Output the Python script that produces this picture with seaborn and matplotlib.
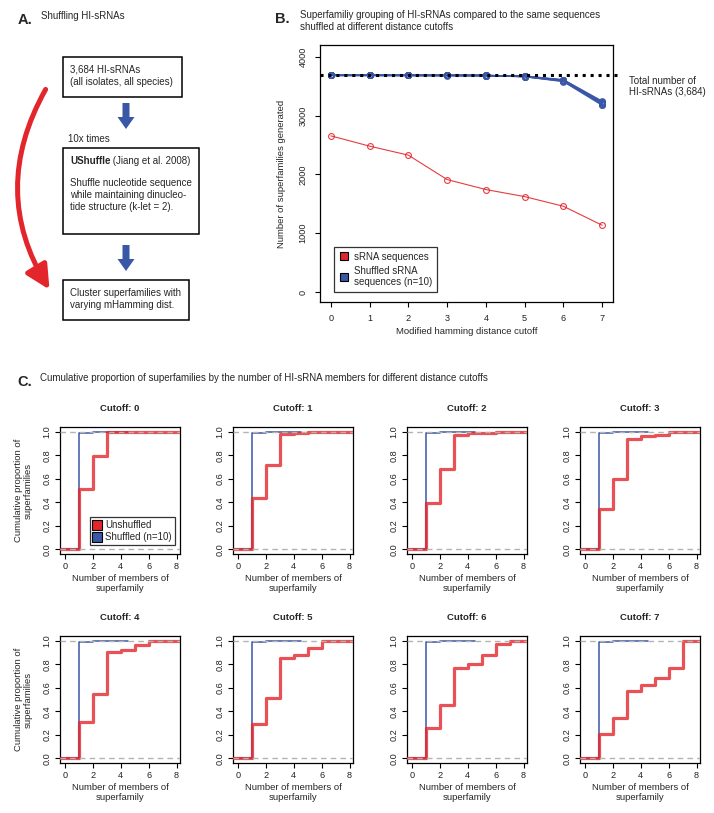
import numpy as np
import pandas as pd
import matplotlib
matplotlib.use("Agg")
import matplotlib.pyplot as plt
import seaborn as sns
from matplotlib.patches import Rectangle, FancyArrowPatch, FancyArrow
from matplotlib.lines import Line2D

sns.set_style("ticks")
plt.rcParams["font.family"] = ["Liberation Sans", "DejaVu Sans"]
plt.rcParams["axes.linewidth"] = 0.9

W, H = 714, 813
RED = "#e3262b"
BLUE = "#3a56a6"
GREY01 = "#b3b3b3"

# ---------------------------------------------------------------------
# Panel B data: superfamilies generated per modified hamming cutoff
# ---------------------------------------------------------------------
cutoffs = [0, 1, 2, 3, 4, 5, 6, 7]
srna_superfamilies = [2655, 2480, 2327, 1912, 1742, 1622, 1458, 1135]
shuffled_superfamilies = [
    [3684, 3684, 3683, 3683, 3682, 3668, 3604, 3238],
    [3684, 3683, 3683, 3682, 3682, 3665, 3598, 3225],
    [3684, 3684, 3684, 3683, 3681, 3670, 3610, 3245],
    [3683, 3684, 3683, 3682, 3681, 3662, 3590, 3210],
    [3684, 3683, 3682, 3683, 3682, 3667, 3600, 3200],
    [3684, 3684, 3683, 3683, 3680, 3664, 3585, 3190],
    [3683, 3683, 3684, 3682, 3682, 3669, 3606, 3230],
    [3684, 3684, 3683, 3681, 3681, 3660, 3578, 3175],
    [3684, 3683, 3683, 3683, 3682, 3666, 3595, 3215],
    [3684, 3684, 3682, 3682, 3680, 3663, 3588, 3185],
]
total_hi_srnas = 3684

# ---------------------------------------------------------------------
# Panel C data: ECDF of superfamily size (members = 1, 2, 3, ...)
# ---------------------------------------------------------------------
unshuffled_cdf = [
    [0.51, 0.79, 1.0],
    [0.44, 0.72, 0.98, 0.985, 1.0],
    [0.39, 0.68, 0.975, 0.985, 0.99, 1.0],
    [0.34, 0.60, 0.94, 0.96, 0.975, 1.0],
    [0.31, 0.55, 0.90, 0.92, 0.96, 1.0],
    [0.29, 0.51, 0.85, 0.88, 0.94, 1.0],
    [0.26, 0.455, 0.765, 0.80, 0.88, 0.97, 1.0],
    [0.21, 0.345, 0.575, 0.62, 0.68, 0.765, 1.0],
]
shuffled_cdf = [0.99, 0.997, 0.999, 1.0]

fig = plt.figure(figsize=(W / 100, H / 100), dpi=100)


def px_axes(left, top, width, height):
    return fig.add_axes([left / W, 1 - (top + height) / H, width / W, height / H])


def r_style(ax, fs):
    for s in ax.spines.values():
        s.set_visible(True)
        s.set_color("black")
        s.set_linewidth(0.9)
    ax.tick_params(direction="out", length=3.5, width=0.8, labelsize=fs,
                   color="black", labelcolor="#222222")


# ---------------------------------------------------------------------
# Overlay for panel A and the panel letters / headings
# ---------------------------------------------------------------------
ov = fig.add_axes([0, 0, 1, 1], zorder=5)
ov.set_xlim(0, W)
ov.set_ylim(H, 0)
ov.axis("off")
ov.patch.set_alpha(0)

ov.text(18, 20, "A.", fontsize=10.5, fontweight="bold", va="center", ha="left")
ov.text(41, 16, "Shuffling HI-sRNAs", fontsize=7, va="center", ha="left")
ov.text(275, 19, "B.", fontsize=10.5, fontweight="bold", va="center", ha="left")
ov.text(300, 21, "Superfamiliy grouping of HI-sRNAs compared to the same sequences\n"
        "shuffled at different distance cutoffs", fontsize=7, va="center", ha="left",
        linespacing=1.2)
ov.text(17, 382, "C.", fontsize=10.5, fontweight="bold", va="center", ha="left")
ov.text(40, 378, "Cumulative proportion of superfamilies by the number of HI-sRNA members "
        "for different distance cutoffs", fontsize=7, va="center", ha="left")

for (x0, y0, x1, y1) in [(63, 57, 182, 97), (63, 148, 199, 234), (63, 280, 189, 320)]:
    ov.add_patch(Rectangle((x0, y0), x1 - x0, y1 - y0, fill=False, ec="black", lw=1.1))

ov.text(70, 76, "3,684 HI-sRNAs\n(all isolates, all species)", fontsize=7,
        va="center", ha="left", linespacing=1.25)
ov.text(68, 139, "10x times", fontsize=7, va="center", ha="left")
t_bold = ov.text(70, 161, "UShuffle", fontsize=7, fontweight="bold", va="center", ha="left")
ov.annotate(" (Jiang et al. 2008)", xy=(1, 0), xycoords=t_bold, fontsize=7,
            va="bottom", ha="left")
ov.text(70, 195, "Shuffle nucleotide sequence\nwhile maintaining dinucleo-\n"
        "tide structure (k-let = 2).", fontsize=7, va="center", ha="left",
        linespacing=1.25)
ov.text(70, 299, "Cluster superfamilies with\nvarying mHamming dist.", fontsize=7,
        va="center", ha="left", linespacing=1.25)

for y_start in (103, 245):
    ov.add_patch(FancyArrow(126, y_start, 0, 26, width=7, head_width=17, head_length=12,
                            length_includes_head=True, color=BLUE, lw=0))

ov.add_patch(FancyArrowPatch((47, 87), (51, 292), connectionstyle="arc3,rad=0.3",
                             arrowstyle="-|>,head_length=0.6,head_width=0.3",
                             mutation_scale=24, lw=3.6, color=RED))

# ---------------------------------------------------------------------
# Panel B
# ---------------------------------------------------------------------
axB = px_axes(320, 45, 293, 257)
shuf_df = pd.DataFrame(
    [(rep, c, v) for rep, row in enumerate(shuffled_superfamilies)
     for c, v in zip(cutoffs, row)],
    columns=["rep", "cutoff", "n"])
srna_df = pd.DataFrame({"cutoff": cutoffs, "n": srna_superfamilies})

sns.lineplot(data=shuf_df, x="cutoff", y="n", units="rep", estimator=None, ax=axB,
             color=BLUE, lw=1.0, marker="o", markersize=4.2, markerfacecolor="none",
             markeredgecolor=BLUE, markeredgewidth=0.8, alpha=0.85)
sns.lineplot(data=srna_df, x="cutoff", y="n", ax=axB, color=RED, lw=0.8, marker="o",
             markersize=4.2, markerfacecolor="none", markeredgecolor=RED,
             markeredgewidth=0.8, alpha=0.9)
axB.axhline(total_hi_srnas, xmin=0, xmax=1.025, color="black", lw=2.2,
            ls=(0, (1, 1.6)), clip_on=False, zorder=4)
axB.text(1.054, (total_hi_srnas + 170) / 4370 - 0.043, "Total number of\nHI-sRNAs (3,684)",
         transform=axB.transAxes, fontsize=7, va="center", ha="left", linespacing=1.15)

axB.set_xlim(-0.28, 7.28)
axB.set_ylim(-170, 4200)
axB.set_xticks(cutoffs)
axB.set_yticks([0, 1000, 2000, 3000, 4000])
r_style(axB, 6.6)
axB.tick_params(axis="y", pad=5.5)
axB.tick_params(axis="x", pad=5)
plt.setp(axB.get_yticklabels(), rotation=90, va="center")
axB.set_xlabel("Modified hamming distance cutoff", fontsize=6.8)
axB.set_ylabel("Number of superfamilies generated", fontsize=6.8)
axB.xaxis.set_label_coords(0.5, -0.098)
axB.yaxis.set_label_coords(-0.115, 0.5)

handlesB = [
    Line2D([], [], ls="none", marker="s", ms=6, mfc=RED, mec="black", mew=0.8),
    Line2D([], [], ls="none", marker="s", ms=6, mfc=BLUE, mec="black", mew=0.8),
]
legB = axB.legend(handlesB, ["sRNA sequences", "Shuffled sRNA\nsequences (n=10)"],
                  loc="lower left", bbox_to_anchor=(0.048, 0.039), borderaxespad=0,
                  fontsize=7, frameon=True, fancybox=False, handlelength=1.0,
                  handletextpad=0.5, borderpad=0.5, labelspacing=0.4)
legB.get_frame().set_edgecolor("black")
legB.get_frame().set_linewidth(0.9)

# ---------------------------------------------------------------------
# Panel C: ECDF grid
# ---------------------------------------------------------------------
col_left = [60, 233, 407, 580]
row_top = [427, 636]
xlo, xhi = -0.35, 8.25

for i, cdf in enumerate(unshuffled_cdf):
    r, c = divmod(i, 4)
    ax = px_axes(col_left[c], row_top[r], 120, 127)

    members = list(range(1, len(cdf) + 1))
    red_df = pd.DataFrame({"x": [xlo] + members + [xhi],
                           "y": [0.0] + cdf + [cdf[-1]]})
    shuf_members = list(range(1, len(shuffled_cdf) + 1))
    blue_df = pd.DataFrame({"x": [xlo] + shuf_members + [shuf_members[-1] + 0.5],
                            "y": [0.0] + shuffled_cdf + [shuffled_cdf[-1]]})

    sns.lineplot(data=blue_df, x="x", y="y", ax=ax, estimator=None, sort=False,
                 drawstyle="steps-post", color=BLUE, lw=1.1, zorder=2)
    sns.lineplot(data=red_df, x="x", y="y", ax=ax, estimator=None, sort=False,
                 drawstyle="steps-post", color=RED, lw=2.3, alpha=0.8, zorder=3)
    for h in (0, 1):
        ax.axhline(h, color=GREY01, lw=1.0, ls=(0, (4, 3)), zorder=4)

    ax.set_xlim(xlo, xhi)
    ax.set_ylim(-0.04, 1.04)
    ax.set_xticks([0, 2, 4, 6, 8])
    ax.set_yticks([0.0, 0.2, 0.4, 0.6, 0.8, 1.0])
    ax.set_yticklabels(["0.0", "0.2", "0.4", "0.6", "0.8", "1.0"])
    r_style(ax, 6.6)
    ax.tick_params(axis="both", pad=2.5)
    plt.setp(ax.get_yticklabels(), rotation=90, va="center")
    ax.set_title(f"Cutoff: {i}", fontsize=6.8, fontweight="bold", y=1.142, pad=0,
                 va="center")
    ax.set_xlabel("Number of members of\nsuperfamily", fontsize=6.8, linespacing=1.15)
    ax.xaxis.set_label_coords(0.5, -0.155)
    if c == 0:
        ax.set_ylabel("Cumulative proportion of\nsuperfamilies", fontsize=6.8,
                      linespacing=1.15)
        ax.yaxis.set_label_coords(-0.225, 0.5)
    else:
        ax.set_ylabel("")

    if i == 0:
        handlesC = [
            Line2D([], [], ls="none", marker="s", ms=6.5, mfc=RED, mec="black", mew=0.8),
            Line2D([], [], ls="none", marker="s", ms=6.5, mfc=BLUE, mec="black", mew=0.8),
        ]
        legC = ax.legend(handlesC, ["Unshuffled", "Shuffled (n=10)"], loc="lower right",
                         bbox_to_anchor=(0.955, 0.07), borderaxespad=0, fontsize=7,
                         frameon=True, fancybox=False, handlelength=0.9,
                         handletextpad=0.4, borderpad=0.3, labelspacing=0.2)
        legC.get_frame().set_edgecolor("#333333")
        legC.get_frame().set_linewidth(0.9)
        legC.get_frame().set_alpha(1)

fig.savefig("out.png", dpi=100)
